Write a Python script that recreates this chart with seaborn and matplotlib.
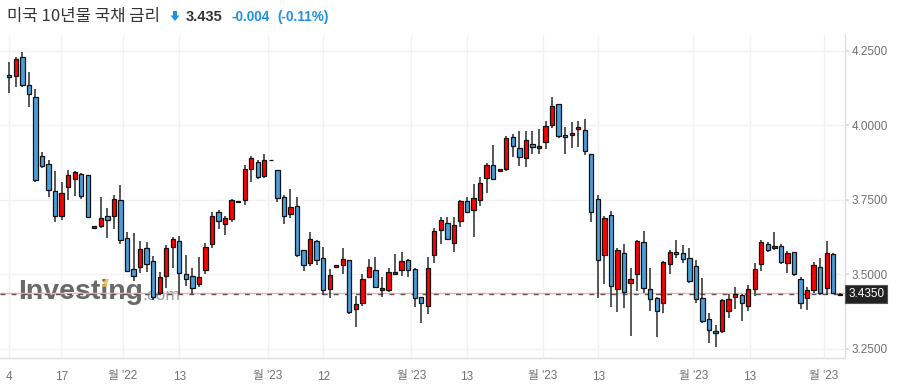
import numpy as np
import matplotlib
matplotlib.use("Agg")
import matplotlib.pyplot as plt
from matplotlib.patches import Polygon
import seaborn as sns

# =====================
# DATA
# =====================

opens = [4.168, 4.164, 4.228, 4.134, 4.094, 3.896, 3.869, 3.779, 3.697, 3.792,
         3.819, 3.836, 3.832, 3.654, 3.663, 3.695, 3.695, 3.748, 3.621, 3.517,
         3.524, 3.588, 3.544, 3.436, 3.493, 3.591, 3.611, 3.500, 3.495, 3.466,
         3.514, 3.601, 3.708, 3.668, 3.685, 3.747, 3.748, 3.852, 3.876, 3.830,
         3.883, 3.849, 3.758, 3.702, 3.728, 3.580, 3.537, 3.611, 3.554, 3.450,
         3.524, 3.530, 3.547, 3.383, 3.403, 3.491, 3.513, 3.446, 3.446, 3.500,
         3.513, 3.548, 3.517, 3.423, 3.394, 3.564, 3.649, 3.673, 3.604, 3.678,
         3.746, 3.715, 3.748, 3.822, 3.866, 3.846, 3.854, 3.960, 3.923, 3.889,
         3.936, 3.923, 3.943, 4.000, 4.070, 3.966, 3.966, 3.987, 3.983, 3.903,
         3.752, 3.564, 3.698, 3.452, 3.571, 3.470, 3.500, 3.607, 3.452, 3.419,
         3.403, 3.534, 3.574, 3.571, 3.554, 3.527, 3.419, 3.349, 3.309, 3.309,
         3.376, 3.423, 3.430, 3.393, 3.450, 3.534, 3.601, 3.587, 3.594, 3.537,
         3.574, 3.483, 3.419, 3.446, 3.524, 3.453, 3.567, 3.430]

highs = [4.211, 4.228, 4.245, 4.178, 4.121, 3.909, 3.885, 3.846, 3.810, 3.849,
         3.848, 3.839, 3.832, 3.661, 3.758, 3.721, 3.766, 3.799, 3.641, 3.640,
         3.613, 3.609, 3.561, 3.508, 3.598, 3.626, 3.630, 3.564, 3.522, 3.557,
         3.606, 3.710, 3.715, 3.696, 3.754, 3.747, 3.866, 3.897, 3.884, 3.905,
         3.883, 3.849, 3.766, 3.785, 3.758, 3.580, 3.641, 3.614, 3.593, 3.517,
         3.531, 3.587, 3.547, 3.427, 3.501, 3.550, 3.557, 3.491, 3.522, 3.567,
         3.574, 3.550, 3.520, 3.423, 3.557, 3.656, 3.691, 3.691, 3.691, 3.749,
         3.758, 3.802, 3.825, 3.872, 3.935, 3.852, 3.963, 3.972, 3.981, 3.981,
         3.981, 3.988, 4.014, 4.095, 4.070, 3.993, 4.010, 4.014, 4.022, 3.903,
         3.765, 3.695, 3.711, 3.587, 3.601, 3.520, 3.614, 3.644, 3.520, 3.423,
         3.544, 3.582, 3.614, 3.598, 3.587, 3.547, 3.487, 3.369, 3.330, 3.416,
         3.433, 3.456, 3.433, 3.463, 3.537, 3.614, 3.607, 3.641, 3.601, 3.577,
         3.574, 3.490, 3.456, 3.540, 3.554, 3.611, 3.571, 3.436]

lows = [4.107, 4.127, 4.128, 4.060, 3.811, 3.856, 3.760, 3.674, 3.683, 3.748,
        3.764, 3.752, 3.690, 3.654, 3.654, 3.623, 3.652, 3.603, 3.509, 3.477,
        3.503, 3.509, 3.414, 3.431, 3.453, 3.522, 3.434, 3.462, 3.433, 3.458,
        3.500, 3.587, 3.651, 3.631, 3.677, 3.742, 3.732, 3.809, 3.820, 3.822,
        3.883, 3.742, 3.668, 3.688, 3.559, 3.510, 3.528, 3.530, 3.430, 3.420,
        3.524, 3.501, 3.368, 3.324, 3.394, 3.488, 3.454, 3.423, 3.442, 3.500,
        3.495, 3.490, 3.389, 3.336, 3.366, 3.539, 3.602, 3.615, 3.576, 3.660,
        3.705, 3.624, 3.728, 3.772, 3.816, 3.846, 3.846, 3.893, 3.863, 3.859,
        3.903, 3.903, 3.919, 3.992, 3.958, 3.904, 3.923, 3.926, 3.900, 3.677,
        3.420, 3.466, 3.389, 3.372, 3.386, 3.292, 3.443, 3.436, 3.376, 3.289,
        3.369, 3.500, 3.554, 3.537, 3.470, 3.403, 3.336, 3.270, 3.256, 3.302,
        3.352, 3.383, 3.344, 3.376, 3.426, 3.510, 3.574, 3.580, 3.534, 3.503,
        3.493, 3.383, 3.379, 3.436, 3.430, 3.430, 3.433, 3.428]

closes = [4.161, 4.221, 4.134, 4.104, 3.815, 3.864, 3.782, 3.695, 3.772, 3.832,
          3.842, 3.762, 3.691, 3.661, 3.690, 3.681, 3.752, 3.614, 3.512, 3.493,
          3.584, 3.534, 3.425, 3.490, 3.588, 3.617, 3.503, 3.483, 3.453, 3.490,
          3.591, 3.695, 3.679, 3.688, 3.750, 3.742, 3.852, 3.889, 3.826, 3.883,
          3.883, 3.755, 3.695, 3.725, 3.564, 3.530, 3.617, 3.547, 3.446, 3.499,
          3.531, 3.550, 3.374, 3.400, 3.483, 3.524, 3.456, 3.453, 3.507, 3.507,
          3.544, 3.513, 3.419, 3.405, 3.520, 3.645, 3.681, 3.617, 3.664, 3.746,
          3.708, 3.755, 3.805, 3.866, 3.821, 3.852, 3.956, 3.932, 3.893, 3.950,
          3.926, 3.931, 3.997, 4.065, 3.963, 3.960, 3.973, 3.993, 3.913, 3.708,
          3.547, 3.688, 3.462, 3.580, 3.440, 3.483, 3.611, 3.453, 3.416, 3.376,
          3.540, 3.574, 3.567, 3.550, 3.477, 3.416, 3.342, 3.313, 3.302, 3.413,
          3.416, 3.433, 3.403, 3.450, 3.517, 3.607, 3.580, 3.594, 3.540, 3.571,
          3.500, 3.403, 3.446, 3.530, 3.436, 3.571, 3.436, 3.435]

# date labels along the bottom (positions in candle units)
date_ticks = [0, 7.95, 17.4, 26.0, 39.5, 48.0, 61.5, 70.0, 81.6, 90.1, 104.6, 113.2, 124.6]
date_labels = ['4', '17', "월 '22", '13', "월 '23", '12', "월 '23", '13',
               "월 '23", '13', "월 '23", '13', "월 '23"]

price_ticks = [3.25, 3.50, 3.75, 4.00, 4.25]
last_price = 3.435

title_name = '미국 10년물 국채 금리'
title_price = '3.435'
title_change = '-0.004'
title_pct = '(-0.11%)'

# =====================
# STYLE
# =====================

UP = '#ff0000'
DOWN = '#4a9fdb'
EDGE = '#111111'
W, H = 897, 389

sns.set_theme(style='white')
plt.rcParams['font.family'] = ['Liberation Sans', 'Noto Sans CJK KR', 'DejaVu Sans']


def fx(px):
    return px / W


def fy(py):
    return 1 - py / H


# =====================
# PLOT
# =====================

fig = plt.figure(figsize=(W / 100, H / 100), dpi=100)
ax = fig.add_axes([0, fy(358), fx(845), fy(35) - fy(358)])

x = np.arange(len(opens))
o = np.array(opens)
c = np.array(closes)
colors = [UP if cc >= oo else DOWN for oo, cc in zip(o, c)]

# grid
for t in price_ticks:
    ax.axhline(t, color='#f2f2f2', lw=1, zorder=0)
for t in date_ticks:
    ax.axvline(t, color='#f2f2f2', lw=1, zorder=0)

# watermark (behind the candles)
ax.text(fx(18), fy(292), 'Investing', transform=fig.transFigure, fontsize=20.5,
        fontweight='bold', color='#4f4f4f', alpha=0.85, va='center', ha='left',
        family=['Liberation Sans'], zorder=1)
ax.text(fx(142), fy(296), '.com', transform=fig.transFigure, fontsize=12.5,
        color='#8a8a8a', alpha=0.85, va='center', ha='left',
        family=['Liberation Sans'], zorder=1)
fig.patches.append(Polygon([(fx(102), fy(287)), (fx(106), fy(287)), (fx(109), fy(279)),
                            (fx(105), fy(279))], closed=True, transform=fig.transFigure,
                           facecolor='#f5b642', alpha=0.8, edgecolor='none'))

# last price line
ax.axhline(last_price + 0.003, color='#ffaaaa', lw=1, zorder=1.5)
ax.axhline(last_price, color='#555555', lw=1, dashes=(3.5, 4.5), zorder=1.6)

# candles
ax.vlines(x, lows, highs, color='#2a2a2a', lw=1.1, zorder=2)
ax.bar(x, np.abs(c - o), bottom=np.minimum(o, c), width=0.66, color=colors,
       edgecolor=EDGE, linewidth=0.9, zorder=3)

ax.set_xlim(-1.42, 127.8)
ax.set_ylim(3.2192, 4.3031)

sns.despine(ax=ax, top=True, left=True, right=False, bottom=False)
for side in ['right', 'bottom']:
    ax.spines[side].set_color('#dddddd')
    ax.spines[side].set_linewidth(1)

ax.yaxis.tick_right()
ax.set_yticks(price_ticks)
ax.set_yticklabels([f'{t:.4f}' for t in price_ticks])
ax.set_xticks(date_ticks)
ax.set_xticklabels(date_labels)
ax.tick_params(axis='y', length=3, color='#dddddd', pad=2, labelsize=8.5, labelcolor='#707070')
ax.tick_params(axis='x', length=5, color='#eeeeee', pad=4, labelsize=8.5, labelcolor='#707070')

# last price tag
ax.text(1.004, last_price, f'{last_price:.4f}', transform=ax.get_yaxis_transform(),
        ha='left', va='center', fontsize=8.5, color='white', zorder=5,
        bbox=dict(boxstyle='square,pad=0.25', facecolor='#222222', edgecolor='#555555', lw=0.8))

# header
fig.text(fx(7), fy(17), title_name, fontsize=12, color='#333333', va='center', ha='left',
         family=['Noto Sans CJK KR', 'DejaVu Sans'])
fig.patches.append(Polygon([(fx(173), fy(11)), (fx(177), fy(11)), (fx(177), fy(15.5)),
                            (fx(179.5), fy(15.5)), (fx(175), fy(21)), (fx(170.5), fy(15.5)),
                            (fx(173), fy(15.5))], closed=True, transform=fig.transFigure,
                           facecolor='#1e90e6', edgecolor='none'))
fig.text(fx(186), fy(17), title_price, fontsize=10.5, fontweight='bold', color='#333333',
         va='center', ha='left')
fig.text(fx(231), fy(17), title_change, fontsize=9.8, fontweight='bold', color='#1e90e6',
         va='center', ha='left')
fig.text(fx(277), fy(17), title_pct, fontsize=9.8, fontweight='bold', color='#1e90e6',
         va='center', ha='left')

fig.savefig('out.png', dpi=100)
